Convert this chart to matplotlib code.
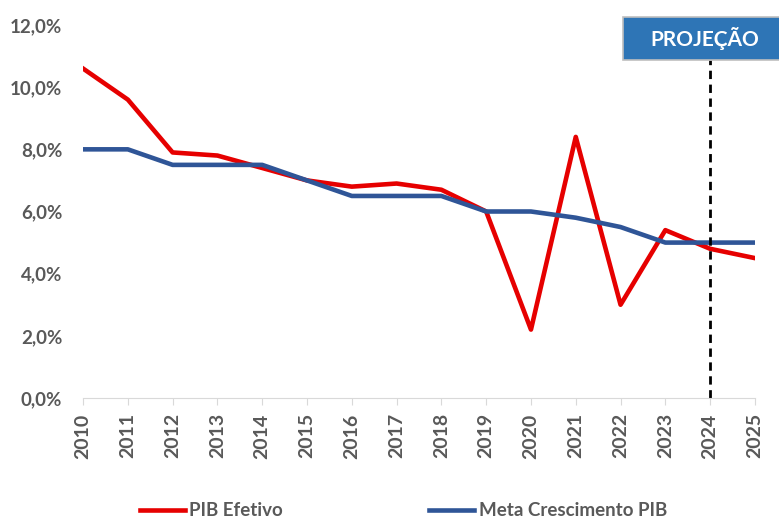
import matplotlib
matplotlib.use("Agg")
import matplotlib.pyplot as plt
from matplotlib.patches import Rectangle
from matplotlib.ticker import FuncFormatter

plt.rcParams['font.family'] = ['Lato', 'DejaVu Sans']

years = list(range(2010, 2026))
pib_efetivo = [10.6, 9.6, 7.9, 7.8, 7.4, 7.0, 6.8, 6.9, 6.7, 6.0, 2.2, 8.4, 3.0, 5.4, 4.8, 4.5]
meta_pib = [8.0, 8.0, 7.5, 7.5, 7.5, 7.0, 6.5, 6.5, 6.5, 6.0, 6.0, 5.8, 5.5, 5.0, 5.0, 5.0]
ano_projecao = 2024

fig = plt.figure(figsize=(7.79, 5.18), dpi=100)
ax = fig.add_axes([0.1066, 0.2317, 0.8625, 0.72])

ax.plot(years, pib_efetivo, color="#E60000", lw=3.3, label="PIB Efetivo")
ax.plot(years, meta_pib, color="#2F5597", lw=3.3, label="Meta Crescimento PIB")
ax.axvline(ano_projecao, ymin=0, ymax=0.906, color="black", lw=2, ls=(0, (3, 2)))

ax.set_xlim(2010, 2025)
ax.set_ylim(0, 12)
ax.set_yticks(range(0, 13, 2))
ax.yaxis.set_major_formatter(FuncFormatter(lambda v, p: f"{v:.1f}%".replace(".", ",")))
ax.set_xticks(years)
ax.set_xticklabels([str(y) for y in years], rotation=90)

for s in ["top", "right", "left"]:
    ax.spines[s].set_visible(False)
ax.spines["bottom"].set_color("#D9D9D9")
ax.tick_params(axis="y", length=0, pad=15, labelsize=13.5, labelcolor="#595959")
ax.tick_params(axis="x", length=5, color="#D9D9D9", pad=6, labelsize=14, labelcolor="#595959")
for lab in ax.get_xticklabels() + ax.get_yticklabels():
    lab.set_fontweight("bold")

# caixa "PROJEÇÃO"
fig.patches.append(Rectangle((0.8, 0.884), 0.21, 0.083, transform=fig.transFigure,
                             facecolor="#2E75B6", edgecolor="#BFBFBF", lw=1.2))
fig.text(0.905, 0.926, "PROJEÇÃO", ha="center", va="center", color="white",
         fontsize=15, fontweight="bold")

fig.legend(loc="lower center", bbox_to_anchor=(0.518, -0.035), ncol=2, frameon=False,
           handlelength=2.4, columnspacing=7.8, handletextpad=0.25,
           prop={"weight": "bold", "size": 13.5})
leg = fig.legends[0]
for t in leg.get_texts():
    t.set_color("#595959")

fig.savefig("out.png", dpi=100)
